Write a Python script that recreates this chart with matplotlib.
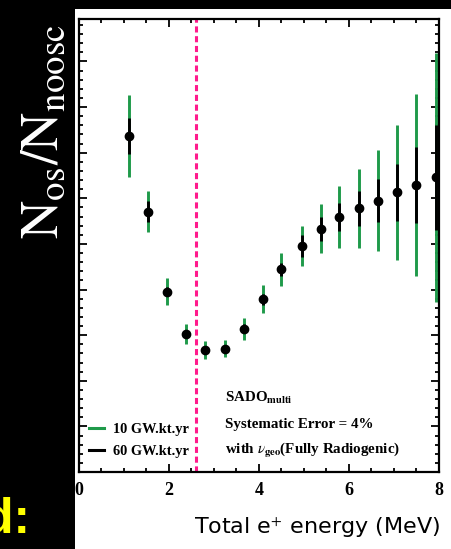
import matplotlib
matplotlib.use("Agg")
import matplotlib.pyplot as plt
from matplotlib.patches import Rectangle
from matplotlib.lines import Line2D
from matplotlib.ticker import MultipleLocator

plt.rcParams['mathtext.fontset'] = 'stix'

energy = [1.11, 1.54, 1.96, 2.38, 2.81, 3.24, 3.67, 4.08, 4.50, 4.95, 5.37, 5.78, 6.22, 6.65, 7.07, 7.49, 7.93]
ratio = [0.737, 0.571, 0.395, 0.302, 0.268, 0.270, 0.314, 0.379, 0.444, 0.496, 0.533, 0.559, 0.578, 0.595, 0.613, 0.629, 0.646]
err_10 = [0.090, 0.044, 0.030, 0.022, 0.020, 0.019, 0.024, 0.030, 0.037, 0.044, 0.054, 0.068, 0.087, 0.111, 0.148, 0.200, 0.273]
err_60 = [0.040, 0.022, 0.010, 0.009, 0.008, 0.008, 0.010, 0.012, 0.015, 0.024, 0.026, 0.030, 0.038, 0.047, 0.063, 0.083, 0.115]
threshold = 2.59
legend_labels = ["10 GW.kt.yr", "60 GW.kt.yr"]

green = "#1f9a4a"
pink = "#ff1a8c"
serif = "Liberation Serif"

fig = plt.figure(figsize=(4.52, 5.49), dpi=100, facecolor="black")
# white slide area
fig.patches.append(Rectangle((75 / 452, 0), 1 - 75 / 452, 1 - 9 / 549,
                             transform=fig.transFigure, facecolor="white",
                             edgecolor="none", zorder=-10))

ax = fig.add_axes([79 / 452, 1 - 472 / 549, (439 - 79) / 452, (472 - 19) / 549])
ax.set_facecolor("white")

ax.errorbar(energy, ratio, yerr=err_10, fmt="none", ecolor=green, elinewidth=2.1, capsize=0, zorder=2)
ax.errorbar(energy, ratio, yerr=err_60, fmt="o", color="black", ecolor="black",
            elinewidth=2.1, capsize=0, markersize=6, zorder=3)
ax.axvline(threshold, color=pink, lw=2.2, ls=(0, (2.0, 1.2)), zorder=1)

ax.set_xlim(0, 8)
ax.set_ylim(0, 0.993)
ax.xaxis.set_major_locator(MultipleLocator(2))
ax.xaxis.set_minor_locator(MultipleLocator(0.5))
ax.yaxis.set_major_locator(MultipleLocator(0.1))
ax.yaxis.set_minor_locator(MultipleLocator(0.02))
ax.tick_params(which="both", direction="in", top=True, right=True, width=1.3)
ax.tick_params(which="major", length=6)
ax.tick_params(which="minor", length=3)
ax.tick_params(axis="y", labelleft=False)
ax.tick_params(axis="x", pad=7)
for lab in ax.get_xticklabels():
    lab.set_family(serif)
    lab.set_fontweight("bold")
    lab.set_fontsize(13)
for s in ax.spines.values():
    s.set_linewidth(1.6)

handles = [Line2D([], [], color=green, lw=2.2), Line2D([], [], color="black", lw=2.2)]
ax.legend(handles, legend_labels, loc="lower left", bbox_to_anchor=(0.004, 0.012),
          borderaxespad=0.2, frameon=False, handlelength=1.0, handletextpad=0.65,
          labelspacing=0.6, prop={"family": serif, "weight": "bold", "size": 10.4})

txt = dict(transform=ax.transAxes, family=serif, fontweight="bold", fontsize=10.8, va="center")
ax.text(0.405, 0.163, r"SADO$_{\mathbf{multi}}$", **txt)
ax.text(0.405, 0.104, "Systematic Error = 4%", **txt)
ax.text(0.405, 0.048, r"with $\nu_{\mathbf{geo}}$(Fully Radiogenic)", **txt)

fig.text(43 / 452, 1 - 132 / 549, r"$\mathrm{N_{os}/N_{noosc}}$", color="white",
         rotation=90, fontsize=38, ha="center", va="center")
fig.text(440 / 452, 1 - 528 / 549, "Total e$^{+}$ energy (MeV)", color="black",
         family="DejaVu Sans", fontsize=16, ha="right", va="center")
fig.text(30 / 452, 1 - 533 / 549, "d:", color="#ffff00", family="Liberation Sans",
         fontweight="bold", fontsize=36, ha="right", va="baseline")

fig.savefig("out.png", dpi=100, facecolor=fig.get_facecolor())
